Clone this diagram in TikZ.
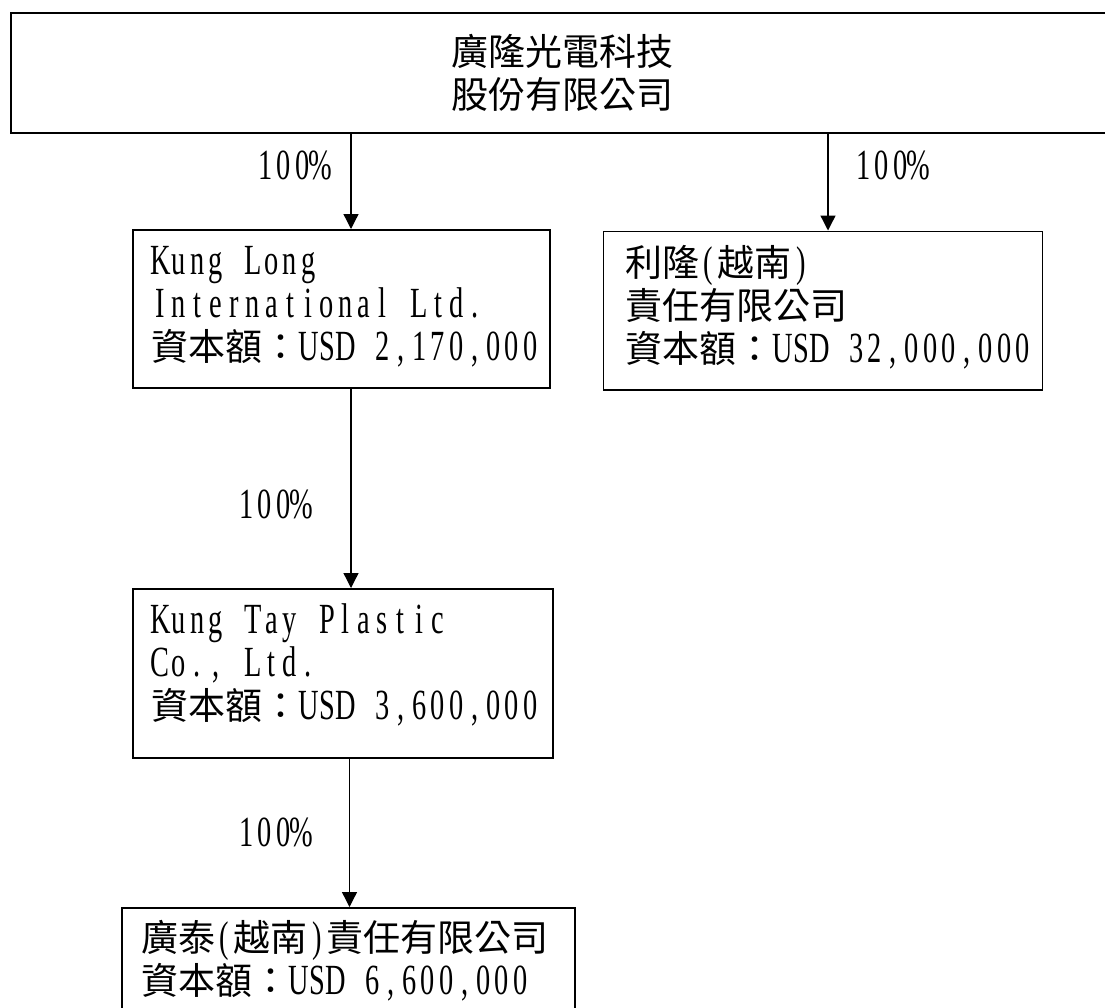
\documentclass[tikz,border=0pt]{standalone}
\usepackage{fontspec}
\setmainfont{Liberation Serif}
\newfontfamily\cjk{Noto Sans CJK TC}
\newfontfamily\latf[FakeStretch=0.66]{Liberation Serif}
\usetikzlibrary{arrows.meta}
\newlength\hwd
\setlength\hwd{18.5pt}
\let\hwend\relax
\newcommand\hw[1]{{\latf\fontsize{43}{43}\selectfont\hwloop#1\hwend}}
\def\hwloop#1{\ifx\hwend#1\else\makebox[\hwd][c]{#1}\expandafter\hwloop\fi}
\tikzset{
  boxnode/.style={draw, line width=1.8pt, rectangle, inner sep=0pt, anchor=north west},
  txtnode/.style={inner sep=0pt, font=\cjk\fontsize{37}{43}\selectfont},
  pctnode/.style={inner sep=0pt, font=\cjk\fontsize{37}{43}\selectfont},
  conn/.style={line width=1.3pt, -{Triangle[width=15pt,length=15pt]}}
}
\begin{document}
\begin{tikzpicture}[x=1pt,y=-1pt]
\useasboundingbox (0,0) rectangle (1105,1007);
\clip (0,0) rectangle (1105,1007);
% boxes
\node[boxnode, minimum width=1104pt, minimum height=120pt] (top) at (10,12) {};
\node[boxnode, minimum width=417pt, minimum height=158pt] (kl) at (132,229) {};
\node[boxnode, minimum width=439pt, minimum height=158.5pt] (rl) at (602.5,230.5) {};
\node[boxnode, minimum width=420pt, minimum height=169pt] (kt) at (132,588) {};
\node[boxnode, minimum width=453pt, minimum height=130pt] (bt) at (121,907) {};
% texts
\node[txtnode, align=center] (toptxt) at (top.center) {廣隆光電科技\\股份有限公司};
\node[txtnode, align=left, anchor=west] (kltxt) at (151,307) {\hw{Kung~Long}\\\hw{International~Ltd.}\\資本額：\hw{USD~2,170,000}};
\node[txtnode, align=left, anchor=west] (rltxt) at (625,307) {利隆\hw{(}越南\hw{)}\\責任有限公司\\資本額：\hw{USD~32,000,000}};
\node[txtnode, align=left, anchor=west] (kttxt) at (151,665) {\hw{Kung~Tay~Plastic}\\\hw{Co.,~Ltd.}\\資本額：\hw{USD~3,600,000}};
\node[txtnode, align=left, anchor=west] (bttxt) at (141,961) {廣泰\hw{(}越南\hw{)}責任有限公司\\資本額：\hw{USD~6,600,000}};
% percentage labels
\node[pctnode] (p1) at (293,165) {\hw{100\%}};
\node[pctnode] (p2) at (891,165) {\hw{100\%}};
\node[pctnode] (p3) at (274,504) {\hw{100\%}};
\node[pctnode] (p4) at (274,832) {\hw{100\%}};
% connector columns
\coordinate (c1) at (351,0);
\coordinate (c2) at (828,0);
\coordinate (c3) at (349.5,0);
\draw[conn] (top.south -| c1) -- (kl.north -| c1);
\draw[conn] (top.south -| c2) -- (rl.north -| c2);
\draw[conn] (kl.south -| c1) -- (kt.north -| c1);
\draw[conn] (kt.south -| c3) -- (bt.north -| c3);
\end{tikzpicture}
\end{document}
